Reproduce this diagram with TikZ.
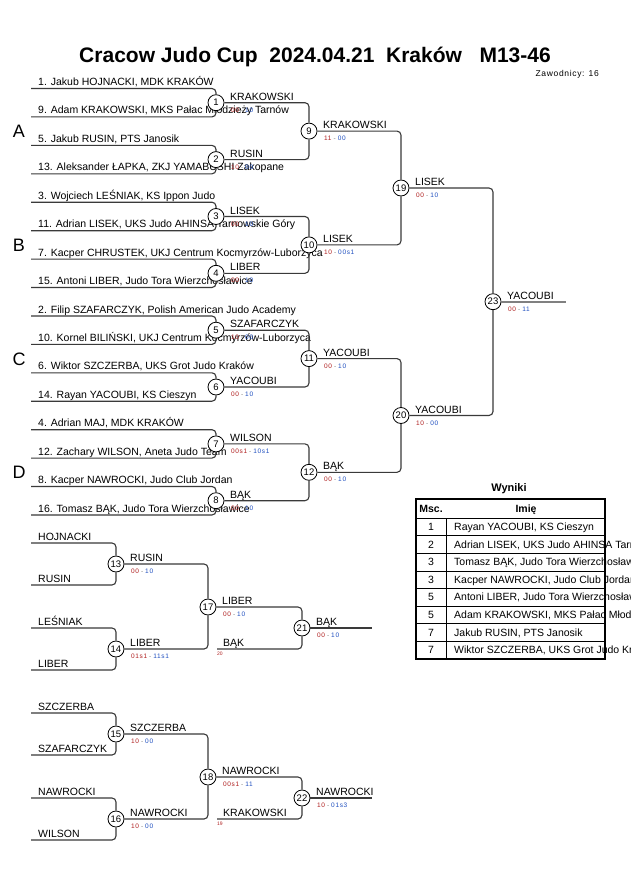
\documentclass[tikz,border=0pt]{standalone}
\usepackage{fontspec}
\setmainfont{Liberation Sans}
\newfontfamily\spacedfont[LetterSpace=10]{Liberation Sans}
\newfontfamily\smallspaced[LetterSpace=8]{Liberation Sans}
\definecolor{linecol}{HTML}{3A3A3A}
\definecolor{scA}{HTML}{B02020}
\definecolor{scB}{HTML}{2050C0}
\definecolor{fincol}{HTML}{808080}
\newcommand{\myscore}[2]{\textcolor{scA}{#1}\hspace{2pt}\textcolor{gray}{-}\hspace{2pt}\textcolor{scB}{#2}}
\newcommand{\mybout}[6]{%
  \node[mc] (#1) at (#2,#3) {#4};
  \node[win] (#1w) at (#2,#3) {#5};
  \node[sc] (#1s) at (#2,#3) {#6};}
\newcommand{\myentr}[3]{%
  \coordinate (#1) at (31,#2);
  \node[ent] (#1t) at (38,#2) {#3};}
\begin{document}
\begin{tikzpicture}[x=1pt,y=-1pt,
  br/.style={draw=linecol, line width=1.1pt, rounded corners=4pt},
  fin/.style={draw=fincol, line width=2pt},
  fin2/.style={draw=linecol, line width=1.1pt},
  mc/.style={circle, draw=black, fill=white, line width=0.8pt, minimum size=16pt, inner sep=0pt, font=\fontsize{9.5}{10}\selectfont},
  ent/.style={anchor=base west, inner sep=0pt, font=\fontsize{10.5}{12}\selectfont, yshift=3pt},
  win/.style={anchor=base west, inner sep=0pt, font=\fontsize{10.5}{12}\selectfont, xshift=14pt, yshift=2.5pt},
  sc/.style={anchor=base west, inner sep=0pt, font=\spacedfont\fontsize{6.5}{7}\selectfont, xshift=15pt, yshift=-9.5pt},
  grp/.style={anchor=base, inner sep=0pt, font=\fontsize{18}{20}\selectfont},
  tiny/.style={anchor=base west, inner sep=0pt, font=\fontsize{5}{5}\selectfont, text=scA},
  tabtxt/.style={inner sep=0pt, font=\fontsize{10.5}{12}\selectfont},
  tabhead/.style={inner sep=0pt, font=\fontsize{10.5}{12}\bfseries\selectfont},
]
\fill[white] (0,0) rectangle (630,891);
\useasboundingbox (0,0) rectangle (630,891);

% title
\node[anchor=base, inner sep=0pt, font=\fontsize{21}{24}\bfseries\selectfont] (title) at (315,63) {Cracow Judo Cup\ \ 2024.04.21\ \ Kraków\ \ \ M13-46};
\node[anchor=base east, inner sep=0pt, font=\smallspaced\fontsize{8.5}{9}\selectfont] (zaw) at (599,76) {Zawodnicy: 16};

% group letters
\node[grp] (gA) at (19,137.6) {A};
\node[grp] (gB) at (19,251.4) {B};
\node[grp] (gC) at (19,365.1) {C};
\node[grp] (gD) at (19,478.8) {D};

% entrants
\myentr{e0}{88.5}{1. Jakub HOJNACKI, MDK KRAKÓW}
\myentr{e1}{116.9}{9. Adam KRAKOWSKI, MKS Pałac Młodzieży Tarnów}
\myentr{e2}{145.4}{5. Jakub RUSIN, PTS Janosik}
\myentr{e3}{173.8}{13. Aleksander ŁAPKA, ZKJ YAMABUSHI Zakopane}
\myentr{e4}{202.2}{3. Wojciech LEŚNIAK, KS Ippon Judo}
\myentr{e5}{230.7}{11. Adrian LISEK, UKS Judo AHINSA Tarnowskie Góry}
\myentr{e6}{259.1}{7. Kacper CHRUSTEK, UKJ Centrum Kocmyrzów-Luborzyca}
\myentr{e7}{287.5}{15. Antoni LIBER, Judo Tora Wierzchosławice}
\myentr{e8}{316.0}{2. Filip SZAFARCZYK, Polish American Judo Academy}
\myentr{e9}{344.4}{10. Kornel BILIŃSKI, UKJ Centrum Kocmyrzów-Luborzyca}
\myentr{e10}{372.8}{6. Wiktor SZCZERBA, UKS Grot Judo Kraków}
\myentr{e11}{401.2}{14. Rayan YACOUBI, KS Cieszyn}
\myentr{e12}{429.7}{4. Adrian MAJ, MDK KRAKÓW}
\myentr{e13}{458.1}{12. Zachary WILSON, Aneta Judo Team}
\myentr{e14}{486.5}{8. Kacper NAWROCKI, Judo Club Jordan}
\myentr{e15}{515.0}{16. Tomasz BĄK, Judo Tora Wierzchosławice}

% main bracket bouts
\mybout{m1}{216}{102.7}{1}{KRAKOWSKI}{\myscore{00}{10}}
\mybout{m2}{216}{159.6}{2}{RUSIN}{\myscore{10}{00}}
\mybout{m3}{216}{216.5}{3}{LISEK}{\myscore{00}{10}}
\mybout{m4}{216}{273.3}{4}{LIBER}{\myscore{00}{10}}
\mybout{m5}{216}{330.2}{5}{SZAFARCZYK}{\myscore{10}{00}}
\mybout{m6}{216}{387.0}{6}{YACOUBI}{\myscore{00}{10}}
\mybout{m7}{216}{443.9}{7}{WILSON}{\myscore{00s1}{10s1}}
\mybout{m8}{216}{500.7}{8}{BĄK}{\myscore{00}{10}}
\mybout{m9}{309}{131.1}{9}{KRAKOWSKI}{\myscore{11}{00}}
\mybout{m10}{309}{244.9}{10}{LISEK}{\myscore{10}{00s1}}
\mybout{m11}{309}{358.6}{11}{YACOUBI}{\myscore{00}{10}}
\mybout{m12}{309}{472.3}{12}{BĄK}{\myscore{00}{10}}
\mybout{m19}{401}{188.0}{19}{LISEK}{\myscore{00}{10}}
\mybout{m20}{401}{415.5}{20}{YACOUBI}{\myscore{10}{00}}
\mybout{m23}{493}{301.7}{23}{YACOUBI}{\myscore{00}{11}}
\coordinate (f23) at (566,301.7);

% main bracket lines
\draw[br] (e0) -| (m1);  \draw[br] (e1) -| (m1);
\draw[br] (e2) -| (m2);  \draw[br] (e3) -| (m2);
\draw[br] (e4) -| (m3);  \draw[br] (e5) -| (m3);
\draw[br] (e6) -| (m4);  \draw[br] (e7) -| (m4);
\draw[br] (e8) -| (m5);  \draw[br] (e9) -| (m5);
\draw[br] (e10) -| (m6); \draw[br] (e11) -| (m6);
\draw[br] (e12) -| (m7); \draw[br] (e13) -| (m7);
\draw[br] (e14) -| (m8); \draw[br] (e15) -| (m8);
\draw[br] (m1) -| (m9);  \draw[br] (m2) -| (m9);
\draw[br] (m3) -| (m10); \draw[br] (m4) -| (m10);
\draw[br] (m5) -| (m11); \draw[br] (m6) -| (m11);
\draw[br] (m7) -| (m12); \draw[br] (m8) -| (m12);
\draw[br] (m9) -| (m19); \draw[br] (m10) -| (m19);
\draw[br] (m11) -| (m20); \draw[br] (m12) -| (m20);
\draw[br] (m19) -| (m23); \draw[br] (m20) -| (m23);
\draw[fin] (m23) -- (f23);

% repechage 1
\myentr{r0}{543}{HOJNACKI}
\myentr{r1}{585}{RUSIN}
\myentr{r2}{628}{LEŚNIAK}
\myentr{r3}{670}{LIBER}
\mybout{m13}{116}{564}{13}{RUSIN}{\myscore{00}{10}}
\mybout{m14}{116}{649}{14}{LIBER}{\myscore{01s1}{11s1}}
\mybout{m17}{208}{607}{17}{LIBER}{\myscore{00}{10}}
\mybout{m21}{302}{628}{21}{BĄK}{\myscore{00}{10}}
\coordinate (b20) at (217,649);
\node[ent] (b20t) at (223,649) {BĄK};
\node[tiny] (b20n) at (217,655.5) {20};
\coordinate (f21) at (372,628);
\draw[br] (r0) -| (m13); \draw[br] (r1) -| (m13);
\draw[br] (r2) -| (m14); \draw[br] (r3) -| (m14);
\draw[br] (m13) -| (m17); \draw[br] (m14) -| (m17);
\draw[br] (m17) -| (m21); \draw[br] (b20) -| (m21);
\draw[fin2] (m21) -- (f21);

% repechage 2
\myentr{r4}{713}{SZCZERBA}
\myentr{r5}{755}{SZAFARCZYK}
\myentr{r6}{798}{NAWROCKI}
\myentr{r7}{840}{WILSON}
\mybout{m15}{116}{734}{15}{SZCZERBA}{\myscore{10}{00}}
\mybout{m16}{116}{819}{16}{NAWROCKI}{\myscore{10}{00}}
\mybout{m18}{208}{777}{18}{NAWROCKI}{\myscore{00s1}{11}}
\mybout{m22}{302}{798}{22}{NAWROCKI}{\myscore{10}{01s3}}
\coordinate (k19) at (217,819);
\node[ent] (k19t) at (223,819) {KRAKOWSKI};
\node[tiny] (k19n) at (217,825.5) {19};
\coordinate (f22) at (372,798);
\draw[br] (r4) -| (m15); \draw[br] (r5) -| (m15);
\draw[br] (r6) -| (m16); \draw[br] (r7) -| (m16);
\draw[br] (m15) -| (m18); \draw[br] (m16) -| (m18);
\draw[br] (m18) -| (m22); \draw[br] (k19) -| (m22);
\draw[fin2] (m22) -- (f22);

% results table
\node[anchor=base, inner sep=0pt, font=\fontsize{11}{12}\bfseries\selectfont] (wyn) at (509,491) {Wyniki};
\draw[black, line width=0.8pt] (416,518) -- (605,518);
\foreach \yy in {535.6,553.2,570.8,588.4,606.0,623.6,641.2}
  \draw[black, line width=0.6pt] (416,\yy) -- (605,\yy);
\draw[black, line width=0.8pt] (446.5,518) -- (446.5,659);
\draw[black, line width=1.6pt] (416,499) rectangle (605,659);
\node[tabhead, anchor=base] (hmsc) at (431,512) {Msc.};
\node[tabhead, anchor=base] (himie) at (526,512) {Imię};
\node[tabtxt, anchor=base] (n1) at (431,530.5) {1};
\node[tabtxt, anchor=base west] (t1) at (454,530.5) {Rayan YACOUBI, KS Cieszyn};
\node[tabtxt, anchor=base] (n2) at (431,548.1) {2};
\node[tabtxt, anchor=base west] (t2) at (454,548.1) {Adrian LISEK, UKS Judo AHINSA Tarnowskie Góry};
\node[tabtxt, anchor=base] (n3) at (431,565.7) {3};
\node[tabtxt, anchor=base west] (t3) at (454,565.7) {Tomasz BĄK, Judo Tora Wierzchosławice};
\node[tabtxt, anchor=base] (n4) at (431,583.3) {3};
\node[tabtxt, anchor=base west] (t4) at (454,583.3) {Kacper NAWROCKI, Judo Club Jordan};
\node[tabtxt, anchor=base] (n5) at (431,600.9) {5};
\node[tabtxt, anchor=base west] (t5) at (454,600.9) {Antoni LIBER, Judo Tora Wierzchosławice};
\node[tabtxt, anchor=base] (n6) at (431,618.5) {5};
\node[tabtxt, anchor=base west] (t6) at (454,618.5) {Adam KRAKOWSKI, MKS Pałac Młodzieży Tarnów};
\node[tabtxt, anchor=base] (n7) at (431,636.1) {7};
\node[tabtxt, anchor=base west] (t7) at (454,636.1) {Jakub RUSIN, PTS Janosik};
\node[tabtxt, anchor=base] (n8) at (431,653.7) {7};
\node[tabtxt, anchor=base west] (t8) at (454,653.7) {Wiktor SZCZERBA, UKS Grot Judo Kraków};
\end{tikzpicture}
\end{document}
